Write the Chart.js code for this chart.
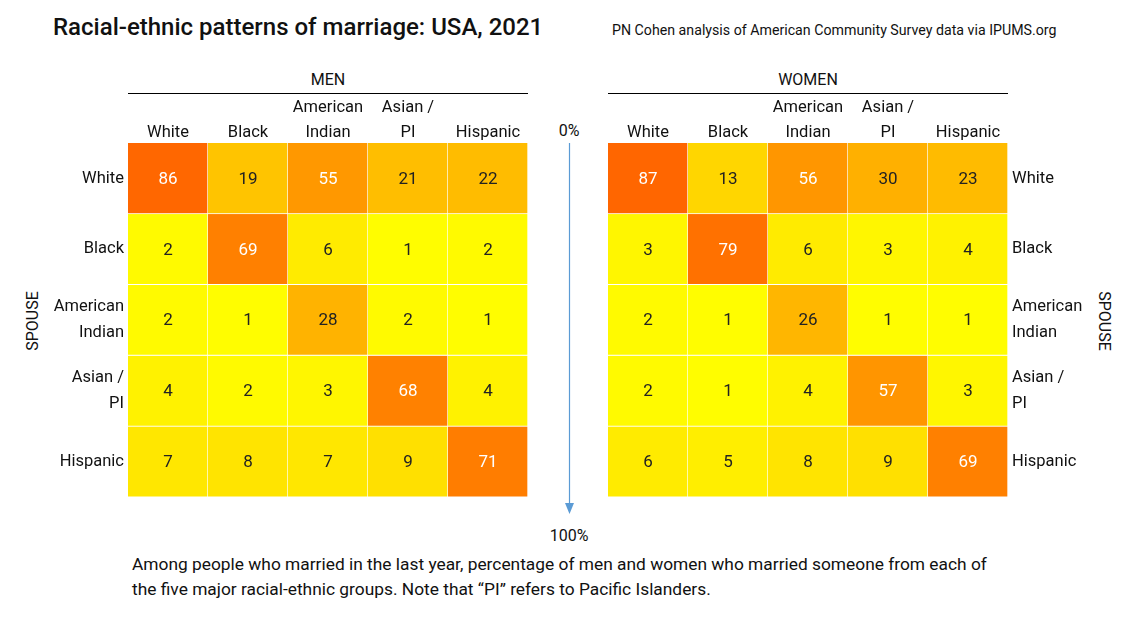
<!DOCTYPE html>
<html>
<head>
<meta charset="utf-8">
<script src="https://cdn.jsdelivr.net/npm/chart.js@4.4.1/dist/chart.umd.min.js"></script>
<style>
  body { margin: 0; background: #fff; font-family: Roboto, "Noto Sans", sans-serif; color: #111; }
  #page { position: relative; width: 1137px; height: 617px; overflow: hidden; }
  .abs { position: absolute; white-space: nowrap; }
  canvas { position: absolute; }
</style>
</head>
<body>
<div id="page">
  <div class="abs" style="left:53px; top:13px; font-size:24px; font-weight:500;">Racial-ethnic patterns of marriage: USA, 2021</div>
  <div class="abs" style="left:612px; top:22px; font-size:14.2px;">PN Cohen analysis of American Community Survey data via IPUMS.org</div>

  <div class="abs" style="left:128px; width:400px; top:70px; text-align:center; font-size:16px;">MEN</div>
  <div class="abs" style="left:128px; width:400px; top:93px; height:0; border-top:1px solid #000;"></div>
  <div class="abs" style="left:608px; width:400px; top:70px; text-align:center; font-size:16px;">WOMEN</div>
  <div class="abs" style="left:608px; width:400px; top:93px; height:0; border-top:1px solid #000;"></div>

  <div class="abs" style="left:32px; top:321px; font-size:16px; transform:translate(-50%,-50%) rotate(-90deg);">SPOUSE</div>
  <div class="abs" style="left:1104px; top:321px; font-size:16px; transform:translate(-50%,-50%) rotate(90deg);">SPOUSE</div>

  <div class="abs" style="left:569px; top:121px; font-size:16px; transform:translateX(-50%);">0%</div>
  <div class="abs" style="left:569px; top:526px; font-size:16px; transform:translateX(-50%);">100%</div>
  <svg class="abs" style="left:560px; top:140px;" width="20" height="378">
    <line x1="9.5" y1="3" x2="9.5" y2="366" stroke="#5b9bd5" stroke-width="1.2"/>
    <polygon points="5,363 14,363 9.5,374" fill="#5b9bd5"/>
  </svg>

  <canvas id="men" style="left:0; top:89px;" width="540" height="425"></canvas>
  <canvas id="women" style="left:600px; top:89px;" width="520" height="425"></canvas>

  <div class="abs" style="left:132px; top:552px; font-size:17.35px; line-height:25px; white-space:normal; width:900px;">
    Among people who married in the last year, percentage of men and women who married someone from each of<br>
    the five major racial-ethnic groups. Note that “PI” refers to Pacific Islanders.
  </div>
</div>

<script>
// column = the person (men / women), row = the spouse
const groups = [['White'], ['Black'], ['American', 'Indian'], ['Asian /', 'PI'], ['Hispanic']];

// men: spouse rows
const menWhite    = [86, 19, 55, 21, 22];
const menBlack    = [2, 69, 6, 1, 2];
const menAmInd    = [2, 1, 28, 2, 1];
const menAsian    = [4, 2, 3, 68, 4];
const menHispanic = [7, 8, 7, 9, 71];

// women: spouse rows
const womenWhite    = [87, 13, 56, 30, 23];
const womenBlack    = [3, 79, 6, 3, 4];
const womenAmInd    = [2, 1, 26, 1, 1];
const womenAsian    = [2, 1, 4, 57, 3];
const womenHispanic = [6, 5, 8, 9, 69];

const FONT = 'Roboto, "Noto Sans", sans-serif';

// yellow -> orange ramp, green channel by value
const ramp = [[0, 255], [2, 250], [5, 238], [9, 224], [13, 214], [21, 190], [30, 176], [55, 152], [70, 126], [87, 102]];
function cellColor(v) {
  let g = ramp[ramp.length - 1][1];
  for (let i = 1; i < ramp.length; i++) {
    if (v <= ramp[i][0]) {
      const [v0, g0] = ramp[i - 1], [v1, g1] = ramp[i];
      g = g0 + (g1 - g0) * (v - v0) / (v1 - v0);
      break;
    }
  }
  return 'rgb(255,' + Math.round(g) + ',0)';
}

const cellLabels = {
  id: 'cellLabels',
  afterDatasetsDraw(chart) {
    const ctx = chart.ctx;
    ctx.save();
    ctx.font = '17px ' + FONT;
    ctx.textAlign = 'center';
    ctx.textBaseline = 'middle';
    chart.data.datasets.forEach((ds, di) => {
      chart.getDatasetMeta(di).data.forEach((bar, i) => {
        const v = ds.values[i];
        const c = bar.getCenterPoint();
        ctx.fillStyle = v >= 50 ? '#fff' : '#222';
        ctx.fillText(String(v), c.x, c.y + 1);
      });
    });
    ctx.restore();
  }
};

function makeHeatmap(id, rows, side) {
  const datasets = rows.map((vals, r) => ({
    label: groups[r].join(' '),
    data: vals.map(() => 1),
    values: vals,
    backgroundColor: vals.map(cellColor),
    borderColor: '#fff',
    borderWidth: { top: 0, left: 0, right: 1, bottom: 1 },
    borderSkipped: false,
    stack: 'cells',
    barPercentage: 1,
    categoryPercentage: 1
  }));

  new Chart(document.getElementById(id), {
    type: 'bar',
    data: { labels: groups, datasets },
    options: {
      responsive: false,
      animation: false,
      layout: { padding: side === 'left' ? { right: 12, bottom: 6 } : { left: 8, bottom: 6 } },
      plugins: { legend: { display: false }, tooltip: { enabled: false } },
      scales: {
        x: {
          position: 'top',
          stacked: true,
          grid: { display: false, drawTicks: false },
          border: { display: false },
          ticks: { color: '#111', font: { family: FONT, size: 16.5, lineHeight: 1.55 }, padding: -3, maxRotation: 0, autoSkip: false },
          afterFit(s) { s.height = 54; }
        },
        y: {
          position: side,
          stacked: true,
          reverse: true,
          min: 0,
          max: 5,
          grid: { display: false, drawTicks: false },
          border: { display: false },
          afterBuildTicks(s) { s.ticks = groups.map((g, i) => ({ value: i + 0.5 })); },
          ticks: {
            color: '#111',
            font: { family: FONT, size: 16.5, lineHeight: 1.55 },
            padding: 4,
            callback: (v) => groups[Math.floor(v)],
            crossAlign: 'near'
          },
          afterFit(s) { s.width = side === 'left' ? 128 : 112; }
        }
      }
    },
    plugins: [cellLabels]
  });
}

makeHeatmap('men', [menWhite, menBlack, menAmInd, menAsian, menHispanic], 'left');
makeHeatmap('women', [womenWhite, womenBlack, womenAmInd, womenAsian, womenHispanic], 'right');
</script>
</body>
</html>
